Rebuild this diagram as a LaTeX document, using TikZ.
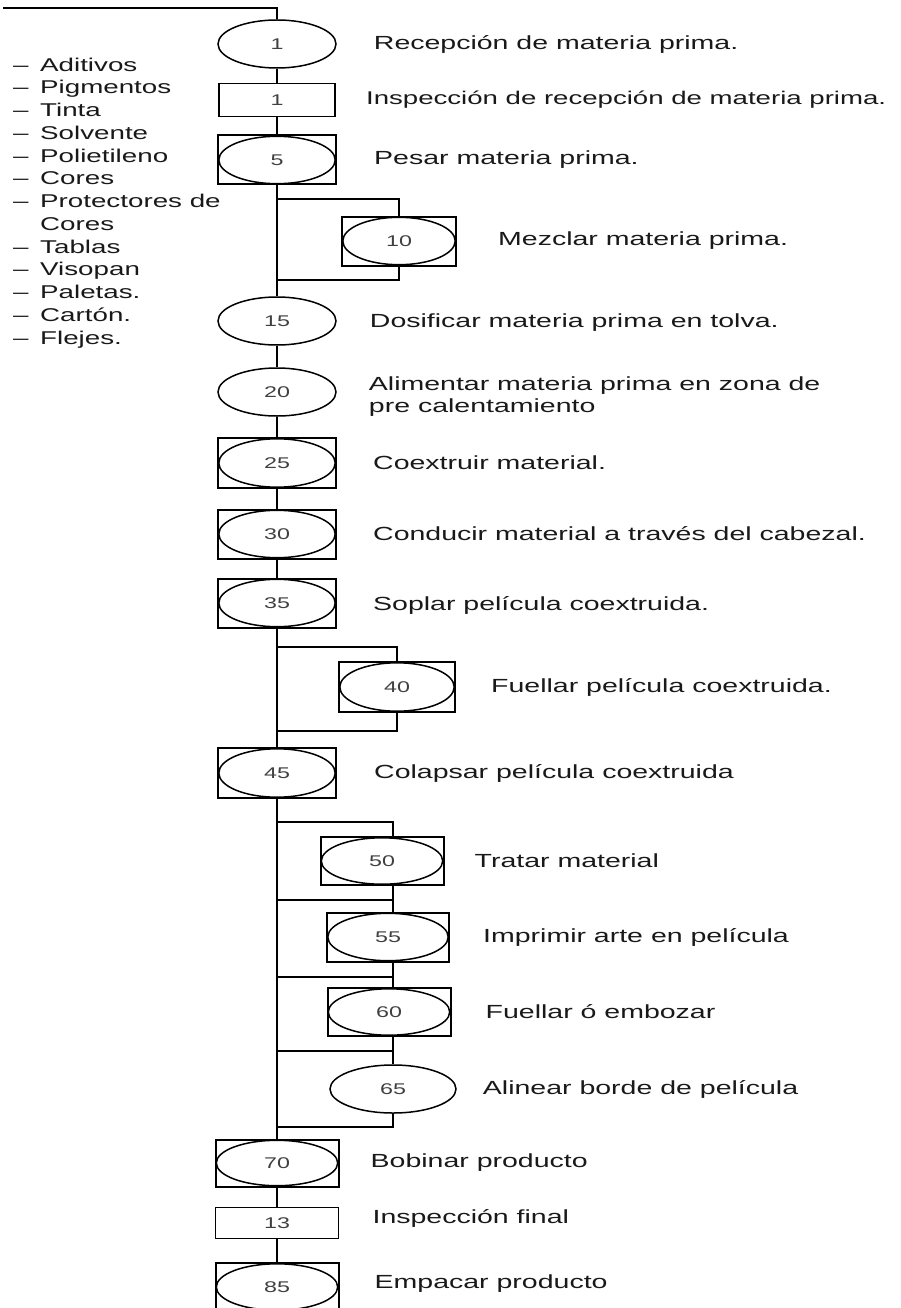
\documentclass[tikz,border=0pt]{standalone}
\usepackage{fontspec}
\setmainfont[FakeStretch=1.5]{Liberation Sans}
\usetikzlibrary{shapes.geometric, positioning, calc}

\newcommand{\numfont}{\fontsize{15.5}{18}\selectfont\color{black!75}}
\newcommand{\lblfont}{\fontsize{19}{22}\selectfont}

\tikzset{
    oper/.style={ellipse, draw, line width=1.5pt, minimum width=118pt, minimum height=48pt, inner sep=0pt, font=\numfont},
    insp/.style={rectangle, draw, line width=1.8pt, minimum width=116pt, minimum height=33pt, inner sep=0pt, font=\numfont},
    combo/.style={rectangle, draw, line width=2pt, minimum width=118pt, minimum height=49pt, inner sep=0pt, font=\numfont,
        path picture={\draw[line width=1.5pt] let \p1=(path picture bounding box.north east), \p2=(path picture bounding box.center)
            in (\p2) ellipse [x radius={\x1-\x2-0.8pt}, y radius={\y1-\y2-0.8pt}];}},
    lbl/.style={font=\lblfont, inner sep=0pt, text=black!90},
    flow/.style={line width=2pt},
}

\begin{document}
\begin{tikzpicture}[x=1pt, y=-1pt]
    \useasboundingbox (0,0) rectangle (901,1308);

    \node[oper] (o1) at (277,44) {1};
    \node[insp] (i1) at (277,100) {1};
    \node[combo] (o5) at (277,160) {5};
    \node[combo, minimum width=114pt] (o10) at (399,241) {10};
    \node[oper] (o15) at (277,321) {15};
    \node[oper] (o20) at (277,392) {20};
    \node[combo, minimum height=50pt] (o25) at (277,463) {25};
    \node[combo] (o30) at (277,534) {30};
    \node[combo] (o35) at (277,603) {35};
    \node[combo, minimum width=116pt, minimum height=50pt] (o40) at (397,687) {40};
    \node[combo, minimum height=50pt] (o45) at (277,773) {45};
    \node[combo, minimum width=123pt, minimum height=48pt] (o50) at (382,861) {50};
    \node[combo, minimum width=122pt] (o55) at (388,937) {55};
    \node[combo, minimum width=123pt, minimum height=48pt] (o60) at (389,1012) {60};
    \node[oper, minimum width=126pt] (o65) at (393,1089) {65};
    \node[combo, minimum width=123pt, minimum height=47pt] (o70) at (277,1163) {70};
    \node[insp, minimum width=123pt, minimum height=31pt] (i13) at (277,1223) {13};
    \node[combo, minimum width=123pt, minimum height=48pt] (o85) at (277,1287) {85};

    \coordinate (start) at (3,8);
    \coordinate (sub) at (393,0);

    \draw[flow] (start) -| (o1.north);
    \draw[flow] (o1) -- (i1) -- (o5) -- (o15) -- (o20) -- (o25) -- (o30) -- (o35) -- (o45) -- (o70) -- (i13) -- (o85);

    \draw[flow] (o10.north) -- ++(0,-17) -| (o5.south);
    \draw[flow] (o10.south) -- ++(0,13) -| (o15.north);
    \draw[flow] (o40.north) -- ++(0,-14) -| (o35.south);
    \draw[flow] (o40.south) -- ++(0,18) -| (o45.north);

    \draw[flow] (o45.south) -- ++(0,23) -| (o50.north -| sub);
    \draw[flow] (o50.south -| sub) -- ++(0,14) coordinate (j1) -- (j1 -| o45.south);
    \draw[flow] (j1) -- (o55.north -| sub);
    \draw[flow] (o55.south -| sub) -- ++(0,14) coordinate (j2) -- (j2 -| o45.south);
    \draw[flow] (j2) -- (o60.north -| sub);
    \draw[flow] (o60.south -| sub) -- ++(0,14) coordinate (j3) -- (j3 -| o45.south);
    \draw[flow] (j3) -- (o65.north);
    \draw[flow] (o65.south) -- ++(0,13) -| (o70.north);

    \node[lbl, right=37pt of o1] (t1) {Recepción de materia prima.};
    \node[lbl, right=30pt of i1, font=\fontsize{18.4}{22}\selectfont] (ti1) {Inspección de recepción de materia prima.};
    \node[lbl, right=37pt of o5] (t5) {Pesar materia prima.};
    \node[lbl, right=41pt of o10] (t10) {Mezclar materia prima.};
    \node[lbl, right=33pt of o15, yshift=-2pt] (t15) {Dosificar materia prima en tolva.};
    \node[lbl, right=32pt of o20, yshift=-5pt, align=left] (t20) {Alimentar materia prima en zona de\\pre calentamiento};
    \node[lbl, right=36pt of o25] (t25) {Coextruir material.};
    \node[lbl, right=36pt of o30] (t30) {Conducir material a través del cabezal.};
    \node[lbl, right=36pt of o35, yshift=-2pt] (t35) {Soplar película coextruida.};
    \node[lbl, right=35pt of o40] (t40) {Fuellar película coextruida.};
    \node[lbl, right=37pt of o45] (t45) {Colapsar película coextruida};
    \node[lbl, right=30pt of o50] (t50) {Tratar material};
    \node[lbl, right=33pt of o55] (t55) {Imprimir arte en película};
    \node[lbl, right=34pt of o60] (t60) {Fuellar ó embozar};
    \node[lbl, right=26pt of o65] (t65) {Alinear borde de película};
    \node[lbl, right=31pt of o70] (t70) {Bobinar producto};
    \node[lbl, right=33pt of i13, yshift=5pt] (ti13) {Inspección final};
    \node[lbl, right=35pt of o85, yshift=3pt] (t85) {Empacar producto};

    \node[lbl, anchor=north west] (mp) at (13,55) {\fontsize{18.5}{22.75}\selectfont
        \begin{tabular}{@{}p{27pt}@{}l@{}}
        -- & Aditivos\\
        -- & Pigmentos\\
        -- & Tinta\\
        -- & Solvente\\
        -- & Polietileno\\
        -- & Cores\\
        -- & Protectores de\\
           & Cores\\
        -- & Tablas\\
        -- & Visopan\\
        -- & Paletas.\\
        -- & Cartón.\\
        -- & Flejes.
        \end{tabular}};
\end{tikzpicture}
\end{document}
